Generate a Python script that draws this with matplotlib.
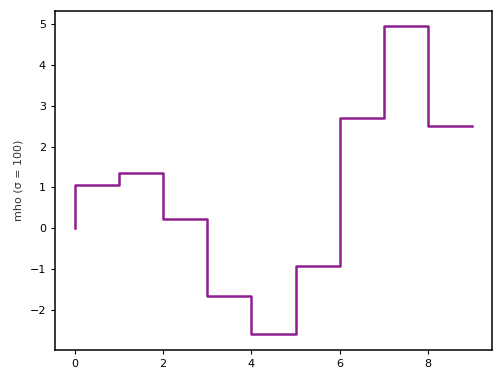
import matplotlib
matplotlib.use('Agg')
import matplotlib.pyplot as plt

# datos de la grafica escalonada
x = [0, 1, 2, 3, 4, 5, 6, 7, 8, 9]
mho = [0, 1.05, 1.36, 0.24, -1.67, -2.6, -0.93, 2.70, 4.95, 2.50]

fig = plt.figure(figsize=(5, 3.87), dpi=100)
ax = fig.add_axes([0.11, 0.096, 0.874, 0.876])
ax.step(x, mho, where='pre', color='#8e1f8e', linewidth=1.8)
ax.set_ylabel('mho (σ = 100)', fontsize=8, color='#333333')
ax.tick_params(labelsize=8, length=3)
for s in ax.spines.values():
    s.set_linewidth(1.1)
plt.savefig('out.png', dpi=100)
